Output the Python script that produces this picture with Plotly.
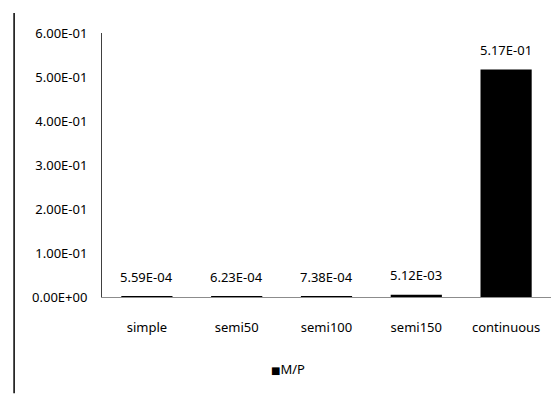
import plotly.graph_objects as go

categories = ["simple", "semi50", "semi100", "semi150", "continuous"]
mp_values = [5.59e-04, 6.23e-04, 7.38e-04, 5.12e-03, 5.17e-01]
y_ticks = [0.0, 0.1, 0.2, 0.3, 0.4, 0.5, 0.6]
y_tick_labels = [f"{v:.2E}" for v in y_ticks]
series_name = "M/P"

FONT = "Noto Sans"
FS = 13
OFF = 8  # page body margin offset
W, H = 559 - OFF, 394 - OFF
L = 101.5 - OFF
R = W - (551 - OFF)
T = 33 - OFF
B = H - (297.5 - OFF)
pw = W - L - R
ph = H - T - B


def px_to_paper(xp, yp):
    xf, yf = xp - OFF, yp - OFF
    return (xf - L) / pw, (T + ph - yf) / ph


fig = go.Figure()
fig.add_trace(go.Bar(
    x=categories, y=mp_values, name=series_name,
    marker=dict(color="#000000", line=dict(width=0)),
    width=0.57, showlegend=False,
))

for c, v in zip(categories, mp_values):
    fig.add_annotation(x=c, y=v, text=f"{v:.2E}", showarrow=False,
                       yanchor="bottom", yshift=9,
                       font=dict(family=FONT, size=FS, color="#000000"))

# legend entry
lx, ly = px_to_paper(288, 370)
fig.add_annotation(xref="paper", yref="paper", x=lx, y=ly,
                   xanchor="center", yanchor="middle", showarrow=False,
                   text="<span style='font-family:DejaVu Sans;font-size:10px'>■</span>" + series_name,
                   font=dict(family=FONT, size=FS, color="#000000"))

# outer border line on the left of the original figure
x0, y0 = px_to_paper(13.5, 394)
_, y1 = px_to_paper(13.5, 13)
fig.add_shape(type="line", xref="paper", yref="paper",
              x0=x0, x1=x0, y0=y0, y1=y1,
              line=dict(color="#000000", width=1.5))

fig.update_layout(
    width=W, height=H,
    margin=dict(l=L, r=R, t=T, b=B, autoexpand=False),
    paper_bgcolor="white", plot_bgcolor="white",
    font=dict(family=FONT, size=FS, color="#000000"),
    showlegend=False,
    xaxis=dict(showline=True, linecolor="#8c8c8c", linewidth=1,
               showgrid=False, zeroline=False, ticks="",
               ticklabelstandoff=18),
    yaxis=dict(range=[0, 0.6], tickvals=y_ticks, ticktext=y_tick_labels,
               showline=True, linecolor="#404040", linewidth=1,
               showgrid=False, zeroline=False, ticks="",
               ticklabelstandoff=11),
)

fig.write_html("out.html")
